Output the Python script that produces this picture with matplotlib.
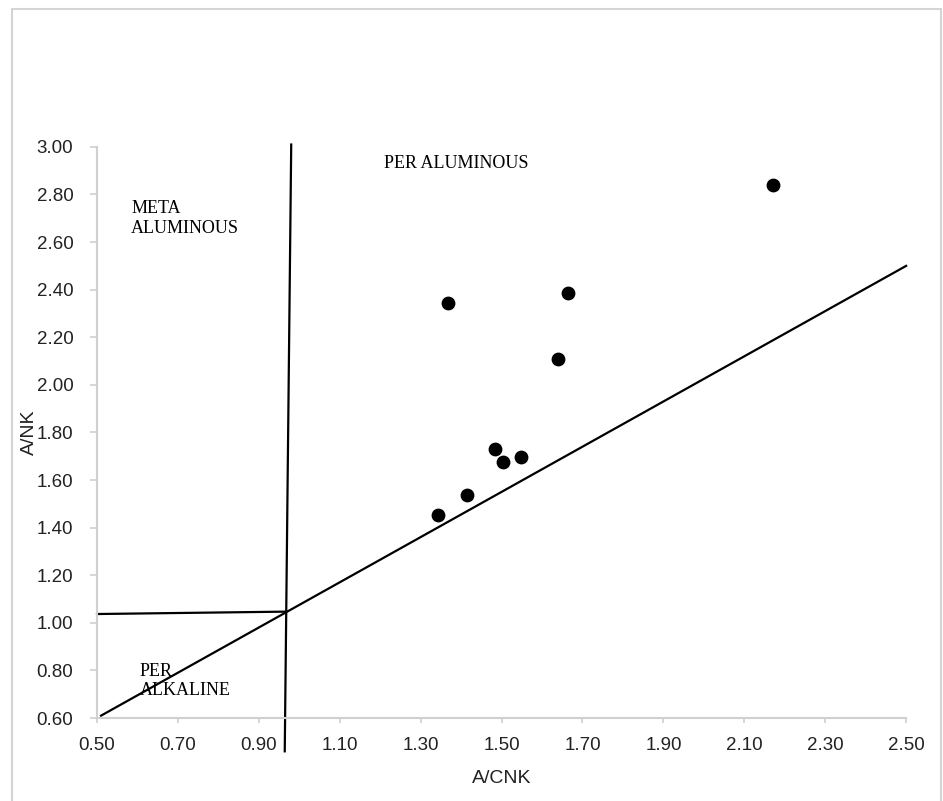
import numpy as np
import matplotlib.pyplot as plt
from matplotlib.patches import Rectangle

# sample points (A/CNK, A/NK)
acnk = [2.17, 1.368, 1.664, 1.64, 1.484, 1.504, 1.548, 1.415, 1.343]
anK = [2.84, 2.344, 2.386, 2.109, 1.731, 1.676, 1.697, 1.537, 1.453]

# field boundaries
vert_x = [0.98, 0.964]
vert_y = [3.01, 0.46]
horiz_x = [0.50, 0.965]
horiz_y = [1.037, 1.047]
diag_x = [0.51, 2.50]
diag_y = [0.61, 2.50]

xticks = np.arange(0.5, 2.51, 0.2)
yticks = np.arange(0.6, 3.01, 0.2)

fig = plt.figure(figsize=(9.43, 8.01), dpi=100)
ax = fig.add_axes([0.1029, 0.1036, 0.858, 0.713])

# light frame round the whole chart
fig.patches.append(Rectangle((0.0127, -0.01), 0.9852, 0.9988, transform=fig.transFigure,
                             fill=False, edgecolor='#d4d4d4', linewidth=1.5))

ax.plot(vert_x, vert_y, color='black', linewidth=1.6, clip_on=False)
ax.plot(horiz_x, horiz_y, color='black', linewidth=1.6, clip_on=False)
ax.plot(diag_x, diag_y, color='black', linewidth=1.6, clip_on=False)
ax.scatter(acnk, anK, s=80, color='black', zorder=3)

serif = ['Liberation Serif', 'DejaVu Serif']
ax.text(1.21, 2.93, 'PER ALUMINOUS', family=serif, fontsize=13, va='center', ha='left')
ax.text(0.584, 2.70, 'META\nALUMINOUS', family=serif, fontsize=13, va='center', ha='left',
        linespacing=1.2)
ax.text(0.606, 0.755, 'PER\nALKALINE', family=serif, fontsize=13, va='center', ha='left',
        linespacing=1.2)

ax.set_xlim(0.5, 2.5)
ax.set_ylim(0.6, 3.0)
ax.set_xticks(xticks)
ax.set_yticks(yticks)
ax.set_xticklabels(['%.2f' % v for v in xticks])
ax.set_yticklabels(['%.2f' % v for v in yticks])

sans = ['Liberation Sans', 'DejaVu Sans']
for lab in ax.get_xticklabels() + ax.get_yticklabels():
    lab.set_family(sans)
    lab.set_fontsize(13.5)
    lab.set_color('#222222')

for side in ['top', 'right']:
    ax.spines[side].set_visible(False)
for side in ['left', 'bottom']:
    ax.spines[side].set_color('#d0d0d0')
    ax.spines[side].set_linewidth(1.5)
ax.tick_params(axis='x', length=3.6, width=1.2, color='#d0d0d0', pad=10)
ax.tick_params(axis='y', length=5, width=1.2, color='#d0d0d0', pad=12)

ax.set_xlabel('A/CNK', family=sans, fontsize=14, color='#222222', va='top')
ax.xaxis.set_label_coords(0.5, -0.091)
ax.set_ylabel('A/NK', family=sans, fontsize=14, color='#222222', va='center')
ax.yaxis.set_label_coords(-0.084, 0.5)

fig.savefig('out.png', dpi=100)
